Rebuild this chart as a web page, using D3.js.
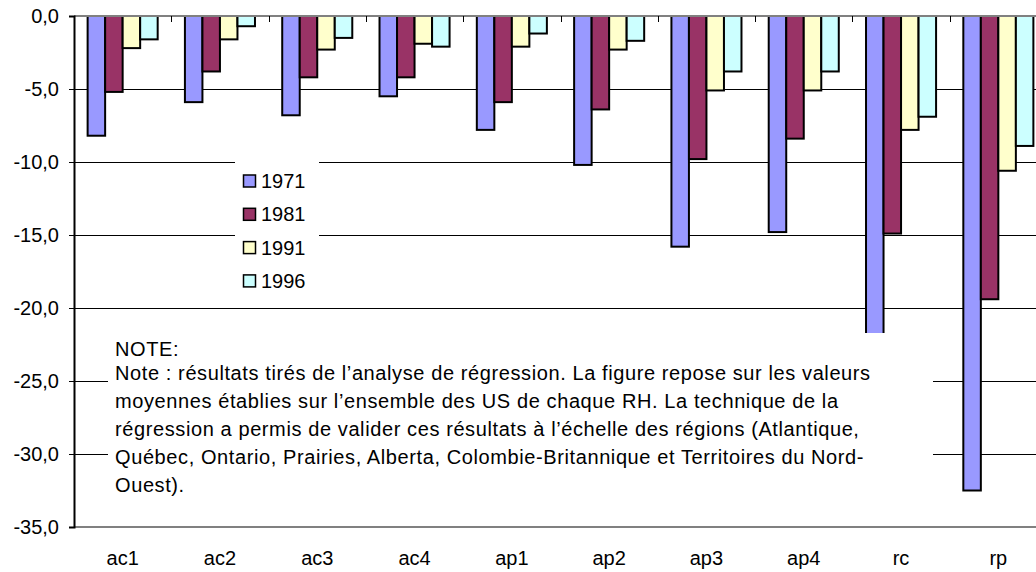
<!DOCTYPE html>
<html>
<head>
<meta charset="utf-8">
<script src="https://cdnjs.cloudflare.com/ajax/libs/d3/7.8.5/d3.min.js"></script>
<style>
    body { margin: 0; background: #fff; }
    svg { display: block; font-family: "Liberation Sans", Arial, sans-serif; }
</style>
</head>
<body>
<div id="picture"></div>
<script>
var categories = ["ac1", "ac2", "ac3", "ac4", "ap1", "ap2", "ap3", "ap4", "rc", "rp"];
var years = ["1971", "1981", "1991", "1996"];
var v1971 = [-8.2, -5.9, -6.8, -5.5, -7.8, -10.2, -15.8, -14.8, -24.0, -32.5];
var v1981 = [-5.2, -3.8, -4.2, -4.2, -5.9, -6.4, -9.8, -8.4, -14.9, -19.4];
var v1991 = [-2.2, -1.6, -2.3, -1.9, -2.1, -2.3, -5.1, -5.1, -7.8, -10.6];
var v1996 = [-1.6, -0.7, -1.5, -2.1, -1.2, -1.7, -3.8, -3.8, -6.9, -8.9];
var yTicks = [0, -5, -10, -15, -20, -25, -30, -35];
var noteTitle = "NOTE:";
var noteLines = [
    "Note : résultats tirés de l’analyse de régression. La figure repose sur les valeurs",
    "moyennes établies sur l’ensemble des US de chaque RH. La technique de la",
    "régression a permis de valider ces résultats à l’échelle des régions (Atlantique,",
    "Québec, Ontario, Prairies, Alberta, Colombie-Britannique et Territoires du Nord-",
    "Ouest)."
];

function draw() {
    "use strict";

    var width = 1036, height = 572;
    var left = 74, top = 16, bottom = 527, right = 1047;
    var colors = ["#9999ff", "#993366", "#ffffcc", "#ccffff"];
    var series = [v1971, v1981, v1991, v1996];

    var svg = d3.select("#picture")
        .append("svg")
        .attr("width", width)
        .attr("height", height);

    var x_scale = d3.scaleBand().domain(categories).range([left, right])
        .paddingInner(0.28).paddingOuter(0.14);
    var x_inner = d3.scaleBand().domain(years).range([0, x_scale.bandwidth()]);
    var y_scale = d3.scaleLinear().domain([-35, 0]).range([bottom, top]);

    // gridlines
    svg.append("g")
        .selectAll("line")
        .data(yTicks.filter(function (d) { return d !== 0 && d !== -35; }))
        .enter().append("line")
        .attr("x1", left).attr("x2", width)
        .attr("y1", function (d) { return y_scale(d); })
        .attr("y2", function (d) { return y_scale(d); })
        .attr("stroke", "#000").attr("stroke-width", 1)
        .attr("shape-rendering", "crispEdges");

    // bottom plot border
    svg.append("line")
        .attr("x1", left).attr("x2", width)
        .attr("y1", y_scale(-35)).attr("y2", y_scale(-35))
        .attr("stroke", "#808080").attr("stroke-width", 2);

    // bars
    var rows = [];
    categories.forEach(function (c, i) {
        years.forEach(function (y, j) {
            rows.push({ cat: c, year: y, val: series[j][i], color: colors[j] });
        });
    });

    svg.append("g")
        .selectAll("rect")
        .data(rows)
        .enter().append("rect")
        .attr("x", function (d) { return x_scale(d.cat) + x_inner(d.year); })
        .attr("y", y_scale(0))
        .attr("width", x_inner.bandwidth())
        .attr("height", function (d) { return y_scale(d.val) - y_scale(0); })
        .attr("fill", function (d) { return d.color; })
        .attr("stroke", "#000")
        .attr("stroke-width", 2);

    // category axis along zero, labels at the bottom
    svg.append("line")
        .attr("x1", left).attr("x2", width)
        .attr("y1", y_scale(0)).attr("y2", y_scale(0))
        .attr("stroke", "#808080").attr("stroke-width", 2);

    svg.append("g")
        .selectAll("line")
        .data(categories.slice(1))
        .enter().append("line")
        .attr("x1", function (d) { return Math.round(x_scale(d) - x_scale.step() * 0.14) + 0.5; })
        .attr("x2", function (d) { return Math.round(x_scale(d) - x_scale.step() * 0.14) + 0.5; })
        .attr("y1", y_scale(0)).attr("y2", y_scale(0) + 6)
        .attr("stroke", "#000");

    svg.append("g")
        .selectAll("text")
        .data(categories)
        .enter().append("text")
        .attr("x", function (d) { return x_scale(d) + x_scale.bandwidth() / 2; })
        .attr("y", 565)
        .attr("text-anchor", "middle")
        .attr("font-size", 20)
        .text(function (d) { return d; });

    // value axis
    var y_axis = d3.axisLeft(y_scale)
        .tickValues(yTicks)
        .tickSize(5)
        .tickPadding(10)
        .tickFormat(function (d) { return d.toFixed(1).replace(".", ","); });

    var ya = svg.append("g")
        .attr("transform", "translate(" + left + ", 0)")
        .call(y_axis);
    ya.select(".domain").attr("stroke", "#000").attr("stroke-width", 2);
    ya.selectAll("text").attr("font-size", 20).attr("fill", "#000")
        .attr("font-family", "Liberation Sans, Arial, sans-serif");

    // legend
    var lg = svg.append("g");
    lg.append("rect").attr("x", 235).attr("y", 160).attr("width", 84).attr("height", 138)
        .attr("fill", "#fff");
    years.forEach(function (y, j) {
        var cy = 181 + j * 33.3;
        lg.append("rect").attr("x", 243.5).attr("y", cy - 6).attr("width", 12).attr("height", 12)
            .attr("fill", colors[j]).attr("stroke", "#000").attr("stroke-width", 1.5);
        lg.append("text").attr("x", 261).attr("y", cy + 7).attr("font-size", 20).text(y);
    });

    // note box
    var nb = svg.append("g").attr("letter-spacing", 0.6);
    nb.append("rect").attr("x", 108).attr("y", 333).attr("width", 825).attr("height", 175)
        .attr("fill", "#fff");
    nb.append("text").attr("x", 115).attr("y", 356).attr("font-size", 20).text(noteTitle);
    nb.selectAll("text.line")
        .data(noteLines)
        .enter().append("text")
        .attr("class", "line")
        .attr("x", 115)
        .attr("y", function (d, i) { return 380 + i * 27.9; })
        .attr("font-size", 20)
        .text(function (d) { return d; });
}

draw();
</script>
</body>
</html>
